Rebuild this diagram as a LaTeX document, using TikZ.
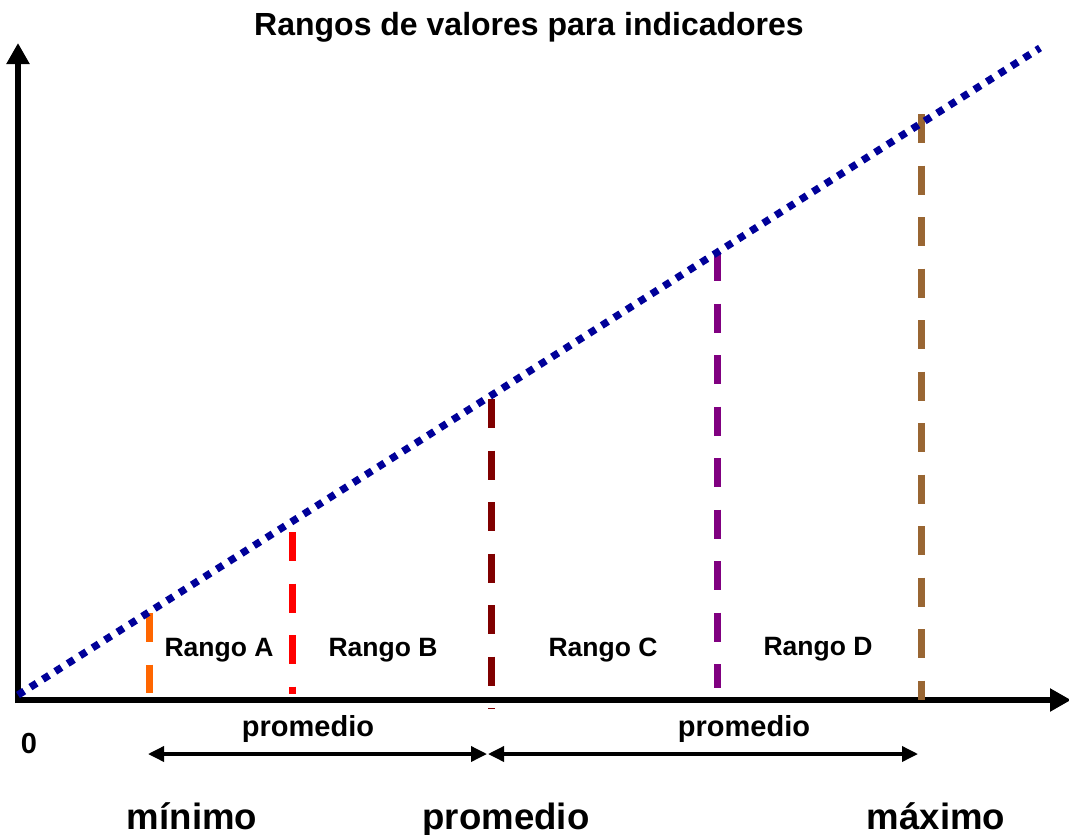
\documentclass[tikz,border=0pt]{standalone}
\usepackage{fontspec}
\setmainfont{Liberation Sans}
\usetikzlibrary{arrows.meta}
\definecolor{dotblue}{RGB}{0,0,153}
\definecolor{lorange}{RGB}{255,102,0}
\definecolor{lred}{RGB}{255,0,0}
\definecolor{ldred}{RGB}{128,0,0}
\definecolor{lpurple}{RGB}{128,0,128}
\definecolor{lbrown}{RGB}{153,102,51}
\begin{document}
\begin{tikzpicture}[x=1pt,y=-1pt,
  axisline/.style={line width=6pt,-{Triangle[length=21pt,width=22pt]}},
  rangeline/.style={line width=7pt,dash pattern=on 29pt off 22.5pt},
  bluedots/.style={line width=7.3pt,dotblue,dash pattern=on 7.3pt off 7.4pt},
  spanarrow/.style={line width=3.5pt,{Triangle[length=16pt,width=15pt]}-{Triangle[length=16pt,width=15pt]}},
  titletext/.style={font=\fontsize{32}{37}\selectfont\bfseries,anchor=base},
  rangotext/.style={font=\fontsize{26.5}{30}\selectfont\bfseries,anchor=base},
  midtext/.style={font=\fontsize{29}{33}\selectfont\bfseries,anchor=base},
  bigtext/.style={font=\fontsize{36.6}{41}\selectfont\bfseries,anchor=base}]
\useasboundingbox (0,0) rectangle (1069,835);

% axes
\coordinate (O) at (18,700);
\coordinate (ytop) at (18,43);
\coordinate (xend) at (1071,700);
\draw[axisline] (18,703) -- (ytop);
\draw[axisline] (15,700) -- (xend);

% vertical range lines
\coordinate (a1) at (149,613); \coordinate (a0) at (149,693);
\coordinate (b1) at (292,532); \coordinate (b0) at (292,694);
\coordinate (c1) at (491,399); \coordinate (c0) at (491,709);
\coordinate (d1) at (717,252); \coordinate (d0) at (717,688);
\coordinate (e1) at (921,114); \coordinate (e0) at (921,700);
\draw[rangeline,lorange] (a1) -- (a0);
\draw[rangeline,lred] (b1) -- (b0);
\draw[rangeline,ldred] (c1) -- (c0);
\draw[rangeline,lpurple] (d1) -- (d0);
\draw[rangeline,lbrown] (e1) -- (e0);

% dotted trend line
\coordinate (s) at (18,695);
\coordinate (t) at (1040,48);
\draw[bluedots] (s) -- (t);

% title
\node[titletext] (title) at (529,35) {Rangos de valores para indicadores};

% range labels
\node[rangotext] (ra) at (219,656) {Rango A};
\node[rangotext] (rb) at (383,656) {Rango B};
\node[rangotext] (rc) at (603,656) {Rango C};
\node[rangotext] (rd) at (818,655) {Rango D};

% origin label
\node[midtext] (zero) at (29,753) {0};

% span arrows
\coordinate (p0) at (148,754);
\coordinate (p1) at (487,754);
\coordinate (p2) at (488,754);
\coordinate (p3) at (918,754);
\draw[spanarrow] (p0) -- (p1);
\draw[spanarrow] (p2) -- (p3);
\node[midtext] (pm1) at (308,736) {promedio};
\node[midtext] (pm2) at (744,736) {promedio};

% bottom labels
\node[bigtext] (min) at (192,829) {mínimo};
\node[bigtext] (prom) at (506,829) {promedio};
\node[bigtext] (max) at (936,829) {máximo};
\end{tikzpicture}
\end{document}
